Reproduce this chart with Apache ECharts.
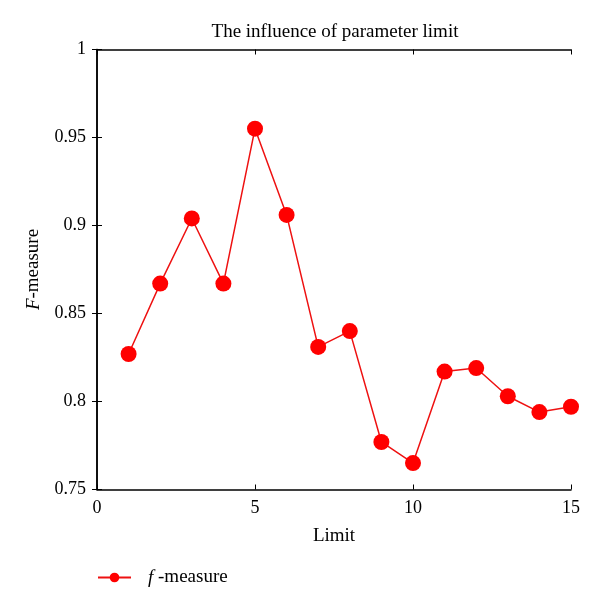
<!DOCTYPE html>
<html><head><meta charset="utf-8">
<script src="https://cdn.jsdelivr.net/npm/echarts@6/dist/echarts.min.js"></script>
<style>html,body{margin:0;padding:0;background:#fff}#c{width:600px;height:610px}</style>
</head><body><div id="c"></div>
<script>
const limits = [1,2,3,4,5,6,7,8,9,10,11,12,13,14,15];
const fMeasure = [0.827,0.867,0.904,0.867,0.955,0.906,0.831,0.840,0.777,0.765,0.817,0.819,0.803,0.794,0.797];
const xTicks = [0,5,10,15];
const yTicks = [0.75,0.8,0.85,0.9,0.95,1];
const titleText = 'The influence of parameter limit';
const seriesName = 'f-measure';

const font = 'Liberation Serif';
const chart = echarts.init(document.getElementById('c'));
const axisLine = {lineStyle:{color:'#000',width:1.5}};
chart.setOption({
  animation:false,
  backgroundColor:'#fff',
  title:{text:titleText,left:335,textAlign:'center',top:23,padding:0,textStyle:{fontFamily:font,fontSize:19,fontWeight:'normal',color:'#000'}},
  grid:{left:97,right:29,top:49.5,bottom:120.5},
  legend:{left:97,top:568,padding:0,itemWidth:33,itemHeight:12,
    data:[seriesName],
    formatter:()=>'{i|f}{n| -measure}',
    textStyle:{fontFamily:font,fontSize:19,color:'#000',
      rich:{i:{fontFamily:font,fontStyle:'italic',fontSize:19,padding:[0,0,0,12]},n:{fontFamily:font,fontSize:19}}}},
  xAxis:[{type:'value',min:xTicks[0],max:xTicks[xTicks.length-1],interval:5,
    name:'Limit',nameLocation:'middle',nameGap:37,
    nameTextStyle:{fontFamily:font,fontSize:19,color:'#000'},
    axisLine:axisLine,axisTick:{inside:true,length:5,lineStyle:{color:'#000'}},
    axisLabel:{fontFamily:font,fontSize:18,color:'#000',margin:10},splitLine:{show:false}},
    {type:'value',position:'top',min:xTicks[0],max:xTicks[xTicks.length-1],interval:5,
    axisLine:axisLine,axisTick:{inside:true,length:5,lineStyle:{color:'#000'}},
    axisLabel:{show:false},splitLine:{show:false}}],
  yAxis:[{type:'value',min:yTicks[0],max:yTicks[yTicks.length-1],interval:0.05,
    name:'{i|F}{n|-measure}',nameLocation:'middle',nameGap:54,nameRotate:90,
    nameTextStyle:{fontFamily:font,fontSize:19,color:'#000',
      rich:{i:{fontFamily:font,fontStyle:'italic',fontSize:19},n:{fontFamily:font,fontSize:19}}},
    axisLine:axisLine,axisTick:{inside:true,length:5,lineStyle:{color:'#000'}},
    axisLabel:{fontFamily:font,fontSize:18,color:'#000',margin:11,formatter:v=>String(parseFloat(v.toFixed(2)))},
    splitLine:{show:false}},
    {type:'value',position:'right',min:yTicks[0],max:yTicks[yTicks.length-1],interval:0.05,
    axisLine:axisLine,axisTick:{inside:true,length:5,lineStyle:{color:'#000'}},
    axisLabel:{show:false},splitLine:{show:false}}],
  series:[{name:seriesName,type:'line',data:limits.map((x,i)=>[x,fMeasure[i]]),
    symbol:'circle',symbolSize:16,
    lineStyle:{color:'#ee1111',width:1.5},itemStyle:{color:'#ff0000'}}]
});
</script></body></html>
